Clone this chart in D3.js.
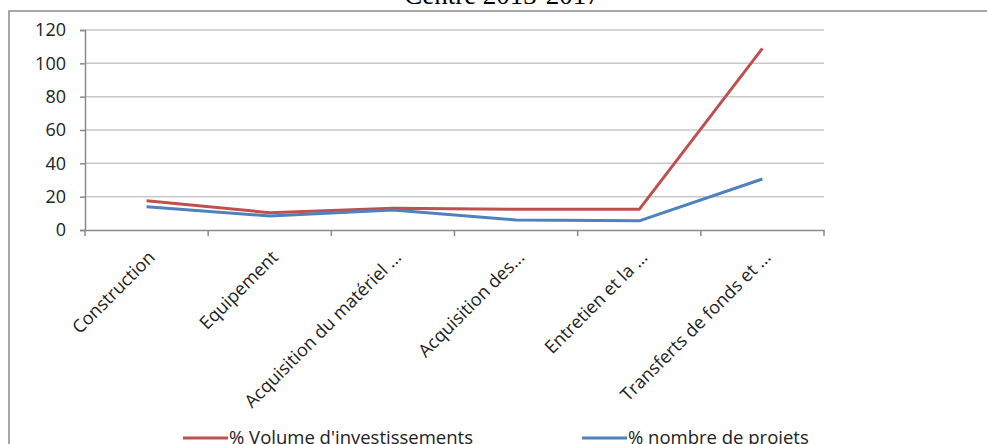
<!DOCTYPE html>
<html>
<head>
<meta charset="utf-8">
<script src="https://cdn.jsdelivr.net/npm/d3@7"></script>
<style>
  html, body { margin: 0; padding: 0; background: #fff; }
  svg { display: block; }
</style>
</head>
<body>
<svg id="chart" width="987" height="444"></svg>
<script>
const categories = ["Construction", "Equipement", "Acquisition du matériel ...", "Acquisition des...", "Entretien et la ...", "Transferts de fonds et ..."];
const volumeValues = [17.6, 10.4, 13, 12.4, 12.4, 109];
const projetsValues = [14, 8.4, 12, 6, 5.5, 30.6];
const yTicks = [0, 20, 40, 60, 80, 100, 120];
const seriesNames = ["% Volume d'investissements", "% nombre de projets"];
const seriesColors = ["#C0504D", "#4F81BD"];
const title = "Centre 2013-2017";

const svg = d3.select("#chart");
const font = "'Open Sans', 'Liberation Sans', sans-serif";

// outer frame
svg.append("rect").attr("x", 9).attr("y", 11).attr("width", 1000).attr("height", 500)
  .attr("fill", "none").attr("stroke", "#8a8a8a").attr("stroke-width", 1.5);

// title (cut off at top, as in the reference)
svg.append("text").attr("x", 502).attr("y", 4).attr("text-anchor", "middle")
  .attr("font-family", "'Liberation Serif', 'Times New Roman', serif").attr("font-size", 27)
  .attr("fill", "#000").text(title);

const x0 = 85, x1 = 824, yTop = 30, yBot = 230;
const x = d3.scaleBand().domain(categories).range([x0, x1]);
const y = d3.scaleLinear().domain([0, 120]).range([yBot, yTop]);

// gridlines
svg.append("g").selectAll("line").data(yTicks.filter(d => d > 0)).join("line")
  .attr("x1", x0).attr("x2", x1).attr("y1", d => y(d)).attr("y2", d => y(d))
  .attr("stroke", "#c8c8c8").attr("stroke-width", 1.5);

// y axis
const yAxis = svg.append("g").attr("transform", `translate(${x0},0)`)
  .call(d3.axisLeft(y).tickValues(yTicks).tickSize(5).tickPadding(14));
yAxis.select(".domain").attr("stroke", "#8a8a8a").attr("stroke-width", 1.5);
yAxis.selectAll(".tick line").attr("stroke", "#8a8a8a").attr("stroke-width", 1.5);
yAxis.selectAll("text").attr("font-family", font).attr("font-size", 18).attr("fill", "#222");

// x axis
const xAxis = svg.append("g").attr("transform", `translate(0,${yBot})`)
  .call(d3.axisBottom(x).tickSize(0).tickFormat(""));
xAxis.select(".domain").attr("stroke", "#8a8a8a").attr("stroke-width", 1.5);
const bounds = categories.map(c => x(c)).concat([x1]);
xAxis.selectAll("line.bt").data(bounds).join("line").attr("class", "bt")
  .attr("x1", d => d).attr("x2", d => d).attr("y1", 0).attr("y2", 6)
  .attr("stroke", "#8a8a8a").attr("stroke-width", 1.5);

// category labels rotated -45
svg.append("g").selectAll("text").data(categories).join("text")
  .attr("transform", d => `translate(${x(d) + x.bandwidth() / 2 + 5},${yBot + 24}) rotate(-45)`)
  .attr("text-anchor", "end").attr("dy", "0.35em")
  .attr("font-family", font).attr("font-size", 18).attr("fill", "#222")
  .text(d => d);

// lines
const line = d3.line().x((d, i) => x(categories[i]) + x.bandwidth() / 2).y(d => y(d));
[volumeValues, projetsValues].forEach((vals, k) => {
  svg.append("path").datum(vals).attr("d", line)
    .attr("fill", "none").attr("stroke", seriesColors[k]).attr("stroke-width", 3)
    .attr("stroke-linejoin", "round");
});

// legend (cut off at bottom, as in the reference)
const legend = [{x: 183, name: seriesNames[0], color: seriesColors[0]}, {x: 582, name: seriesNames[1], color: seriesColors[1]}];
const lg = svg.append("g").selectAll("g").data(legend).join("g")
  .attr("transform", d => `translate(${d.x},438)`);
lg.append("line").attr("x1", 0).attr("x2", 45).attr("y1", 0).attr("y2", 0)
  .attr("stroke", d => d.color).attr("stroke-width", 3);
lg.append("text").attr("x", 46).attr("y", 6).attr("font-family", font).attr("font-size", 18.5)
  .attr("fill", "#222").text(d => d.name);
</script>
</body>
</html>
